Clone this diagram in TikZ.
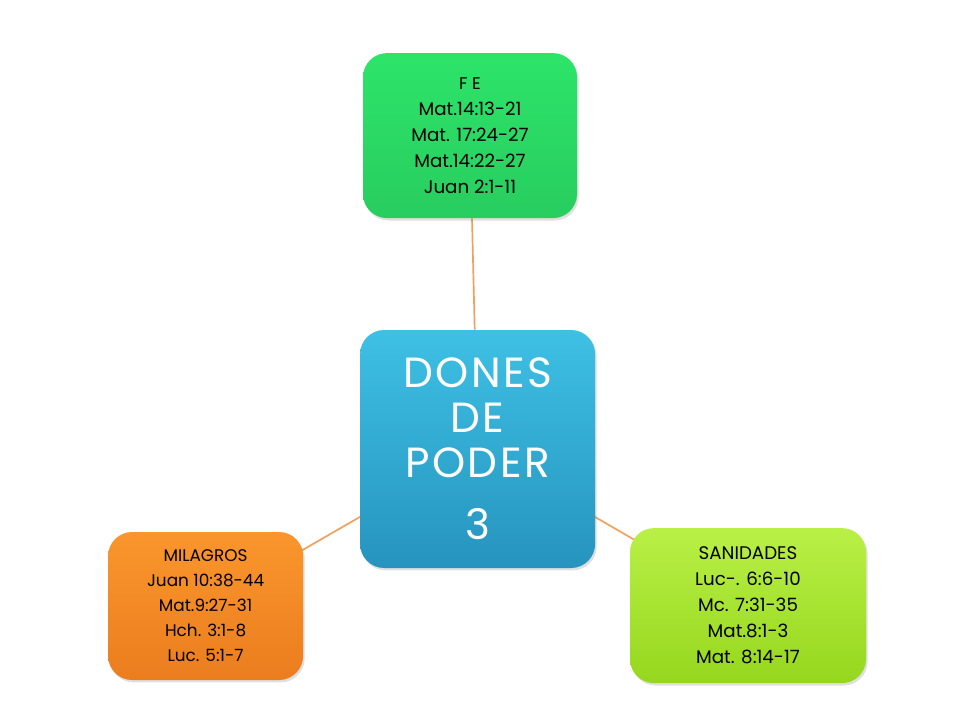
\documentclass[tikz,border=0pt]{standalone}
\usepackage{fontspec}
\setmainfont{Poppins}
\newfontfamily\grande[LetterSpace=6]{Poppins}
\usepackage{tikz}
\usetikzlibrary{positioning,shadows,backgrounds}
\definecolor{verde}{RGB}{45,228,105}
\definecolor{verdeb}{RGB}{40,205,95}
\definecolor{azul}{RGB}{62,192,228}
\definecolor{azulb}{RGB}{38,148,190}
\definecolor{naranja}{RGB}{250,150,45}
\definecolor{naranjab}{RGB}{235,125,30}
\definecolor{lima}{RGB}{185,240,70}
\definecolor{limab}{RGB}{150,215,30}
\definecolor{linea}{RGB}{240,160,95}
\tikzset{
  caja/.style={rounded corners=0.6cm,align=center,inner sep=0pt,
    drop shadow={opacity=0.25,shadow xshift=0.4mm,shadow yshift=-0.6mm},
    font=\fontsize{13}{18.5}\selectfont},
  centro/.style={caja,top color=azul,bottom color=azulb,text=white,
    font=\grande\fontsize{30}{31.8}\selectfont},
  lazo/.style={draw=linea,line width=1.2pt},
}

\begin{document}
\begin{tikzpicture}
  \useasboundingbox (0,0) rectangle (24,18);
  \node[centro,minimum width=5.875cm,minimum height=5.95cm] (dones) at (11.94,6.775)
    {DONES\\DE\\PODER\\[13pt]3};
  \node[caja,top color=verde,bottom color=verdeb,minimum width=5.35cm,minimum height=4.125cm]
    (fe) at (11.75,14.61) {{\fontsize{12}{18.5}\selectfont F E}\\Mat.14:13-21\\Mat. 17:24-27\\Mat.14:22-27\\Juan 2:1-11};
  \node[caja,top color=naranja,bottom color=naranjab,minimum width=4.875cm,minimum height=3.7cm,
    font=\fontsize{12}{17.8}\selectfont]
    (mil) at (5.14,2.85) {MILAGROS\\Juan 10:38-44\\Mat.9:27-31\\Hch. 3:1-8\\Luc. 5:1-7};
  \node[caja,top color=lima,bottom color=limab,minimum width=5.9cm,minimum height=3.875cm]
    (san) at (18.7,2.86) {SANIDADES\\Luc-. 6:6-10\\Mc. 7:31-35\\Mat.8:1-3\\Mat. 8:14-17};
  \begin{scope}[on background layer]
    \draw[lazo] (dones) -- (fe);
    \draw[lazo] (dones.center) -- (mil.center);
    \draw[lazo] (dones.center) -- (san.center);
  \end{scope}
\end{tikzpicture}
\end{document}
